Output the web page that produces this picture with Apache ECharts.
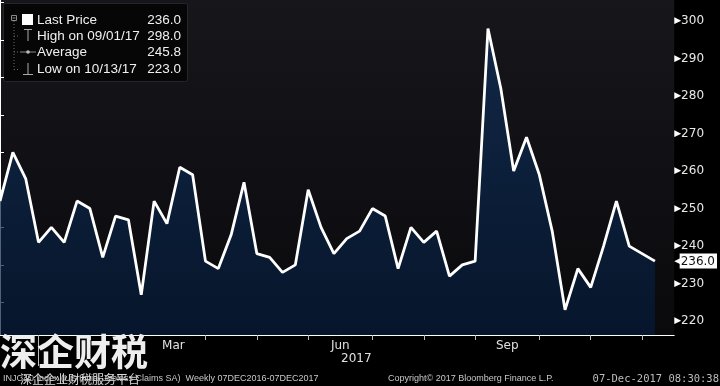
<!DOCTYPE html>
<html><head><meta charset="utf-8">
<script src="https://cdn.jsdelivr.net/npm/echarts@6/dist/echarts.min.js"></script>
<style>html,body{margin:0;padding:0;background:#000;}#c{width:720px;height:386px;}</style>
</head><body><div id="c"></div>
<script>
// ---- data ----
const firstWeek = '2016-12-09';
const claims = [252,265,258,241,245,241,252,250,237,248,247,227,252,246,261,259,236,234,243,257,238,237,233,235,255,245,238,242,244,250,248,234,245,241,244,232,235,236,298,282,260,269,259,244,223,234,229,240,252,240,238,236];
const yTicks = [220,230,240,250,260,270,280,290,300];
const yMinorTicks = [225,235,245,255,265,275,285,295,305];
const monthNames = {2:'Mar',5:'Jun',8:'Sep'};
const yearLabel = '2017';
const legendNames = ['Last Price','High on 09/01/17','Average','Low on 10/13/17'];
const legendValues = ['236.0','298.0','245.8','223.0'];
const footerLeft = 'INJCJC Index (US Initial Jobless Claims SA)  Weekly 07DEC2016-07DEC2017';
const footerMid = 'Copyright\u00a9 2017 Bloomberg Finance L.P.';
const footerRight = '07-Dec-2017 08:30:38';
const watermark = '深企财税';
const watermarkSub = '深企企业财税服务平台';

// ---- derived ----
const t0 = Date.parse(firstWeek + 'T00:00:00Z');
const dates = claims.map((_, i) => new Date(t0 + i * 7 * 86400000));
const monthEnds = [];
for (let i = 0; i < dates.length - 1; i++) {
  if (dates[i].getUTCMonth() !== dates[i + 1].getUTCMonth()) monthEnds.push(i);
}
const xMin = 0, xMax = 52.5;
const monthMids = [], midName = {};
for (let k = 1; k < monthEnds.length; k++) {
  const m = dates[monthEnds[k]].getUTCMonth();
  if (monthNames[m] !== undefined) {
    const mid = (monthEnds[k - 1] + monthEnds[k]) / 2;
    monthMids.push(mid); midName[mid] = monthNames[m];
  }
}
const yearStart = monthEnds[0];
const yearMid = (yearStart + xMax) / 2;
const lastVal = claims[claims.length - 1];
const seriesData = claims.map((v, i) => [i, v]);

const FONT = 'DejaVu Sans';
const LFONT = 'Liberation Sans';
const chart = echarts.init(document.getElementById('c'), null, {renderer: 'canvas'});

const legendGraphics = [
  {type: 'rect', shape: {x: 3.5, y: 3.5, width: 184, height: 78, r: 2}, style: {fill: '#060607', stroke: '#26262a', lineWidth: 1}},
  {type: 'rect', shape: {x: 11.5, y: 15.5, width: 5, height: 5}, style: {fill: 'none', stroke: '#8a8a8a', lineWidth: 1}},
  {type: 'line', shape: {x1: 12.5, y1: 18, x2: 15.5, y2: 18}, style: {stroke: '#8a8a8a', lineWidth: 1}},
  {type: 'line', shape: {x1: 14, y1: 21, x2: 14, y2: 69.5}, style: {stroke: '#6a6a6a', lineWidth: 1, lineDash: [1, 2]}},
  {type: 'line', shape: {x1: 14, y1: 36, x2: 20, y2: 36}, style: {stroke: '#6a6a6a', lineWidth: 1, lineDash: [1, 2]}},
  {type: 'line', shape: {x1: 14, y1: 52, x2: 20, y2: 52}, style: {stroke: '#6a6a6a', lineWidth: 1, lineDash: [1, 2]}},
  {type: 'line', shape: {x1: 14, y1: 69.5, x2: 20, y2: 69.5}, style: {stroke: '#6a6a6a', lineWidth: 1, lineDash: [1, 2]}},
  {type: 'rect', shape: {x: 22, y: 14, width: 11, height: 11}, style: {fill: '#ffffff'}},
  {type: 'line', shape: {x1: 24, y1: 29.5, x2: 32, y2: 29.5}, style: {stroke: '#aaaaaa', lineWidth: 1}},
  {type: 'line', shape: {x1: 28, y1: 29.5, x2: 28, y2: 41}, style: {stroke: '#aaaaaa', lineWidth: 1}},
  {type: 'line', shape: {x1: 20, y1: 52, x2: 36, y2: 52}, style: {stroke: '#8a8a8a', lineWidth: 1}},
  {type: 'circle', shape: {cx: 28, cy: 52, r: 1.8}, style: {fill: '#bbbbbb'}},
  {type: 'line', shape: {x1: 28, y1: 63, x2: 28, y2: 74.5}, style: {stroke: '#aaaaaa', lineWidth: 1}},
  {type: 'line', shape: {x1: 23, y1: 74.5, x2: 33, y2: 74.5}, style: {stroke: '#aaaaaa', lineWidth: 1}}
];
const rowY = [20.5, 36, 52.5, 69];
legendNames.forEach((n, i) => {
  legendGraphics.push({type: 'text', x: 37, y: rowY[i], style: {text: n, fill: '#f0f0f0', font: '13.5px "' + LFONT + '"', textVerticalAlign: 'middle'}});
  legendGraphics.push({type: 'text', x: 181, y: rowY[i], style: {text: legendValues[i], fill: '#f0f0f0', font: '13.5px "' + LFONT + '"', textAlign: 'right', textVerticalAlign: 'middle'}});
});

const otherGraphics = [
  {type: 'text', x: 0, y: 333, z: 20, style: {text: watermark, fill: '#eeeeee', font: 'bold 37px "Noto Sans CJK SC"', textVerticalAlign: 'top'}},
  {type: 'text', x: 20, y: 373, z: 21, style: {text: watermarkSub, fill: '#d8d8d8', font: '12px "Noto Sans CJK SC"', textVerticalAlign: 'top'}},
  {type: 'text', x: 3, y: 379, z: 19, style: {text: footerLeft, fill: '#c8c8c8', font: '9px "Liberation Sans"', textVerticalAlign: 'middle'}},
  {type: 'text', x: 388, y: 379, style: {text: footerMid, fill: '#c8c8c8', font: '9px "Liberation Sans"', textVerticalAlign: 'middle'}},
  {type: 'text', x: 719, y: 379, style: {text: footerRight, fill: '#bdbdbd', font: '10.5px "DejaVu Sans Mono"', textAlign: 'right', textVerticalAlign: 'middle'}}
];

const option = {
  backgroundColor: '#000000',
  animation: false,
  grid: {
    left: 0, right: 42, top: 0, bottom: 51, show: true, borderWidth: 0,
    backgroundColor: new echarts.graphic.LinearGradient(0, 0, 0, 1, [
      {offset: 0, color: '#17161b'}, {offset: 1, color: '#0a0a0d'}
    ])
  },
  xAxis: [
    {
      type: 'value', min: xMin, max: xMax, position: 'bottom',
      splitLine: {show: false},
      axisLine: {show: true, lineStyle: {color: '#ffffff', width: 1}},
      axisTick: {show: true, customValues: monthEnds, length: 5, lineStyle: {color: '#bdbdbd'}},
      axisLabel: {show: true, customValues: monthMids, formatter: v => midName[v] || '', color: '#e0e0e0', fontFamily: FONT, fontSize: 12, margin: 5}
    },
    {
      type: 'value', min: xMin, max: xMax, position: 'bottom',
      splitLine: {show: false},
      axisLine: {show: false},
      axisTick: {show: true, customValues: [yearStart], length: 31, lineStyle: {color: '#bdbdbd'}},
      axisLabel: {show: true, customValues: [yearMid], formatter: () => yearLabel, color: '#e0e0e0', fontFamily: FONT, fontSize: 12, margin: 18}
    }
  ],
  yAxis: [
    {
      type: 'value', position: 'right', min: 216.3, max: 305.6,
      splitLine: {show: false},
      axisLine: {show: true, lineStyle: {color: '#ffffff', width: 1}},
      axisTick: {show: true, customValues: yMinorTicks, length: 4, lineStyle: {color: '#ffffff'}},
      axisLabel: {
        show: true, customValues: yTicks, margin: 0,
        formatter: v => '{a|\u25B6}{v|' + v + '}',
        rich: {
          a: {color: '#ffffff', fontSize: 9, fontFamily: FONT},
          v: {color: '#e8e8e8', fontSize: 12, fontFamily: FONT}
        }
      }
    },
    {
      type: 'value', position: 'right', min: 216.3, max: 305.6,
      splitLine: {show: false}, axisLine: {show: false}, axisTick: {show: false},
      axisLabel: {
        show: true, customValues: [lastVal], margin: 0,
        formatter: v => '{a|\u25C0}{b|' + v.toFixed(1) + '}',
        rich: {
          a: {color: '#ffffff', fontSize: 11, fontFamily: FONT, padding: [0, -3, 0, 0]},
          b: {color: '#111111', backgroundColor: '#ffffff', fontSize: 12, fontFamily: FONT, padding: [2, 2, 1, 1]}
        }
      }
    }
  ],
  series: [{
    type: 'line', xAxisIndex: 0, yAxisIndex: 0, data: seriesData,
    symbol: 'none', z: 5,
    lineStyle: {color: '#ffffff', width: 2.8},
    areaStyle: {
      origin: 'start',
      color: new echarts.graphic.LinearGradient(0, 0, 0, 1, [
        {offset: 0, color: '#10305a'}, {offset: 1, color: '#041a38'}
      ])
    }
  }],
  graphic: legendGraphics.concat(otherGraphics)
};
chart.setOption(option);
</script></body></html>
